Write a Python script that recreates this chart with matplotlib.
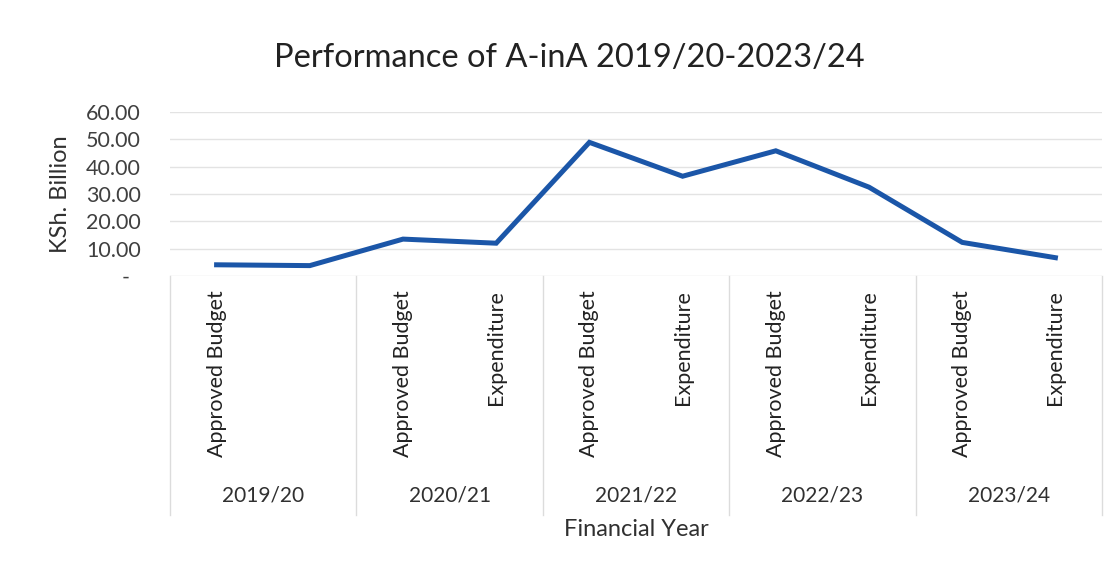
import matplotlib
matplotlib.use("Agg")
import matplotlib.pyplot as plt
from matplotlib.lines import Line2D
import matplotlib.transforms as mtransforms

plt.rcParams['font.family'] = ['Lato', 'DejaVu Sans']

years = ["2019/20", "2020/21", "2021/22", "2022/23", "2023/24"]
categories = ["Approved Budget", "", "Approved Budget", "Expenditure",
              "Approved Budget", "Expenditure", "Approved Budget", "Expenditure",
              "Approved Budget", "Expenditure"]
values = [4.1, 3.8, 13.5, 12.0, 48.9, 36.5, 45.8, 32.5, 12.3, 6.7]
yticks = [0, 10, 20, 30, 40, 50, 60]
ytick_labels = ["-  ", "10.00", "20.00", "30.00", "40.00", "50.00", "60.00"]

W, H = 1115, 570
fig = plt.figure(figsize=(W / 100, H / 100), dpi=100)
ax = fig.add_axes([170 / W, 1 - 276 / H, 932 / W, 164 / H])

x = list(range(len(values)))
ax.plot(x, values, color="#1b56a8", lw=3.6, solid_joinstyle="miter")
ax.set_xlim(-0.5, len(values) - 0.5)
ax.set_ylim(0, 60)
ax.set_yticks(yticks)
ax.set_yticklabels(ytick_labels, fontsize=15.5, color="#404040")
ax.grid(axis="y", color="#e3e3e3", lw=1)
ax.set_axisbelow(True)
for s in ax.spines.values():
    s.set_visible(False)
ax.tick_params(axis="both", length=0)
ax.tick_params(axis="y", pad=21)

ax.set_xticks(x)
ax.set_xticklabels(categories, rotation=90, fontsize=15.5, color="#222222", va="top")
ax.tick_params(axis="x", pad=10)

trans = mtransforms.blended_transform_factory(ax.transData, fig.transFigure)
ngroups = len(years)
for i in range(ngroups + 1):
    xb = -0.5 + 2 * i
    ax.add_line(Line2D([xb, xb], [1 - 276 / H, 1 - 515 / H], transform=trans,
                       color="#dcdcdc", lw=1, clip_on=False))
for i, yr in enumerate(years):
    ax.text(0.5 + 2 * i, 1 - 495 / H, yr, transform=trans, ha="center", va="center",
            fontsize=15, color="#303030")

fig.text(0.5 * (170 + 1102) / W, 1 - 530 / H, "Financial Year", ha="center",
         va="center", fontsize=17, color="#303030")
ax.set_ylabel("KSh. Billion", fontsize=17, color="#303030")
ax.yaxis.set_label_coords(-0.106, 0.5)

fig.text(0.511, 1 - 58 / H, "Performance of A-inA 2019/20-2023/24", ha="center",
         va="center", fontsize=23.5, color="#222222")

fig.savefig("out.png", dpi=100)
